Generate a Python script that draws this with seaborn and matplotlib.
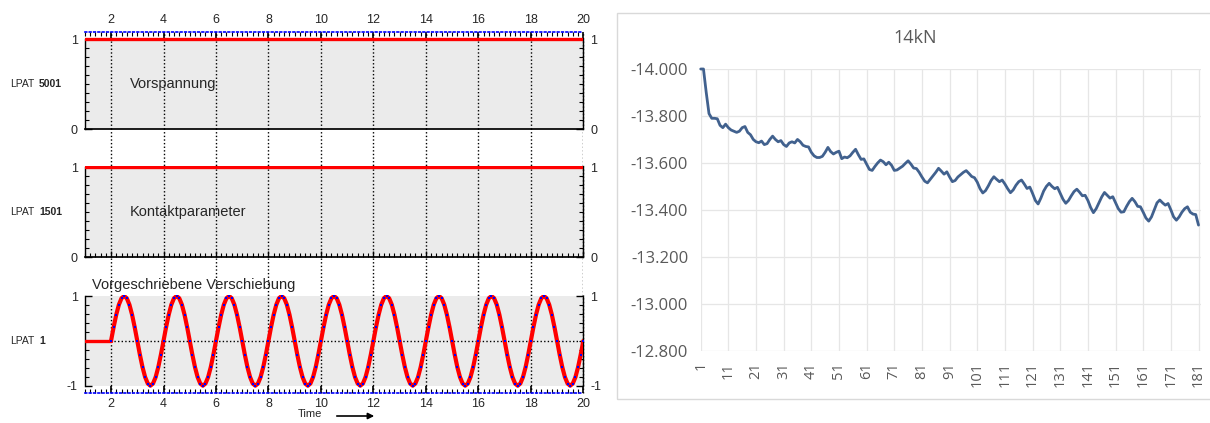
import numpy as np
import pandas as pd
import matplotlib
matplotlib.use("Agg")
import matplotlib.pyplot as plt
import seaborn as sns
from matplotlib.ticker import MultipleLocator, FixedLocator
from matplotlib.patches import Rectangle, FancyArrowPatch

# ---------------- data: load curves (left) ----------------
span_time = [1.0, 20.0]
preload_level = [1.0, 1.0]          # LPAT 5001 - Vorspannung
contact_level = [1.0, 1.0]          # LPAT 1501 - Kontaktparameter
hold_time = [1.0, 2.0]
hold_disp = [0.0, 0.0]
# one period of the prescribed displacement, sampled every 0.1 s
disp_cycle = [0.0, 0.309, 0.588, 0.809, 0.951, 1.0, 0.951, 0.809, 0.588, 0.309,
              0.0, -0.309, -0.588, -0.809, -0.951, -1.0, -0.951, -0.809, -0.588, -0.309]
n_cycles = 9
time_ticks = [2, 4, 6, 8, 10, 12, 14, 16, 18, 20]

# ---------------- data: measured force (right) ----------------
force_title = "14kN"
force_kn = [
    -14.000, -14.000, -13.900, -13.810, -13.790, -13.790, -13.788, -13.760, -13.750, -13.765,
    -13.750, -13.740, -13.735, -13.730, -13.735, -13.750, -13.755, -13.730, -13.720, -13.700,
    -13.690, -13.686, -13.693, -13.678, -13.682, -13.700, -13.714, -13.700, -13.690, -13.695,
    -13.678, -13.670, -13.685, -13.690, -13.685, -13.700, -13.690, -13.675, -13.670, -13.668,
    -13.645, -13.630, -13.623, -13.623, -13.628, -13.645, -13.666, -13.648, -13.638, -13.645,
    -13.650, -13.618, -13.625, -13.622, -13.630, -13.645, -13.658, -13.635, -13.615, -13.617,
    -13.595, -13.572, -13.568, -13.585, -13.600, -13.612, -13.605, -13.592, -13.603, -13.590,
    -13.568, -13.570, -13.578, -13.586, -13.598, -13.609, -13.595, -13.578, -13.576, -13.560,
    -13.540, -13.522, -13.515, -13.530, -13.545, -13.560, -13.577, -13.565, -13.552, -13.562,
    -13.540, -13.520, -13.525, -13.540, -13.550, -13.560, -13.567, -13.555, -13.542, -13.537,
    -13.518, -13.490, -13.472, -13.482, -13.502, -13.525, -13.541, -13.530, -13.520, -13.527,
    -13.510, -13.490, -13.473, -13.485, -13.505, -13.520, -13.527, -13.510, -13.491, -13.497,
    -13.470, -13.440, -13.425, -13.450, -13.480, -13.500, -13.513, -13.500, -13.490, -13.496,
    -13.470, -13.445, -13.428, -13.440, -13.460, -13.478, -13.488, -13.475, -13.460, -13.462,
    -13.440, -13.410, -13.388, -13.405, -13.430, -13.455, -13.474, -13.462, -13.450, -13.456,
    -13.430, -13.405, -13.390, -13.392, -13.415, -13.435, -13.449, -13.435, -13.415, -13.413,
    -13.390, -13.365, -13.352, -13.370, -13.400, -13.430, -13.442, -13.430, -13.420, -13.427,
    -13.400, -13.370, -13.356, -13.370, -13.390, -13.405, -13.413, -13.390, -13.382, -13.380,
    -13.335,
]
force_step = list(range(1, len(force_kn) + 1))
force_yticks = [-14.0, -13.8, -13.6, -13.4, -13.2, -13.0, -12.8]
force_xticks = list(range(1, 182, 10))

disp_values = disp_cycle * n_cycles + [0.0]
disp_time = np.round(np.linspace(2.0, 20.0, len(disp_values)), 2)
disp_df = pd.DataFrame({"Time": disp_time, "u": disp_values})
force_df = pd.DataFrame({"step": force_step, "F": force_kn})

# ---------------- style ----------------
sns.set_theme(style="white")
plt.rcParams["font.family"] = ["Liberation Sans", "DejaVu Sans"]
plt.rcParams["axes.unicode_minus"] = False

W, H = 1210, 423
fig = plt.figure(figsize=(W / 100, H / 100), dpi=100)
fig.patch.set_facecolor("white")


def box(x0, y0, x1, y1):
    return [x0 / W, 1 - y1 / H, (x1 - x0) / W, (y1 - y0) / H]


GRAY = "#ebebeb"
DOT = (0, (1, 1.6))

# guide lines running through the gaps between the load-curve panels
guide = fig.add_axes(box(84.8, 32, 583.3, 392.7))
guide.set_zorder(0)
guide.set_xlim(1, 20)
guide.set_ylim(0, 1)
guide.axis("off")
for t in time_ticks:
    guide.axvline(t, color="black", lw=1.0, ls=DOT)

ax1 = fig.add_axes(box(84.8, 32, 583.3, 129))
ax2 = fig.add_axes(box(84.8, 165.5, 583.3, 257.3))
ax3 = fig.add_axes(box(84.8, 294.7, 583.3, 392.7))

panels = [
    (ax1, (0, 1.078), (0, 1), 0.1, [0, 1]),
    (ax2, (0, 1.02), (0, 1), 0.1, [0, 1]),
    (ax3, (-1.156, 1.03), (-1, 1), 0.2, [-1, 1]),
]
for ax, ylim, band, yminor, yticks in panels:
    ax.set_zorder(1)
    ax.set_facecolor("none")
    ax.set_xlim(1, 20)
    ax.set_ylim(*ylim)
    ax.axhspan(band[0], band[1], color=GRAY, zorder=0, lw=0)
    for t in time_ticks:
        ax.axvline(t, color="black", lw=1.0, ls=DOT, zorder=1, clip_on=False)
    for side in ["left", "right"]:
        ax.spines[side].set_visible(True)
        ax.spines[side].set_color("black")
        ax.spines[side].set_linewidth(1.0)
        ax.spines[side].set_bounds(band[0], band[1])
    ax.yaxis.set_major_locator(FixedLocator(yticks))
    ax.yaxis.set_minor_locator(MultipleLocator(yminor))
    ax.tick_params(axis="y", which="both", left=True, right=True,
                   labelleft=True, labelright=True, direction="in",
                   color="black", labelsize=9, pad=5)
    ax.tick_params(axis="y", which="major", length=5, width=1)
    ax.tick_params(axis="y", which="minor", length=3, width=0.8)
    ax.xaxis.set_major_locator(FixedLocator(time_ticks))
    ax.xaxis.set_minor_locator(MultipleLocator(0.2))
    ax.set_xlabel("")
    ax.set_ylabel("")

# panel 1: Vorspannung
sns.lineplot(x=span_time, y=preload_level, ax=ax1, color="red", lw=2.4,
             estimator=None, zorder=3)
ax1.spines["top"].set_visible(True)
ax1.spines["top"].set_color("blue")
ax1.spines["top"].set_linestyle(DOT)
ax1.spines["top"].set_linewidth(1.2)
ax1.spines["bottom"].set_visible(True)
ax1.spines["bottom"].set_color("black")
ax1.spines["bottom"].set_bounds(1, 20)
ax1.tick_params(axis="x", which="both", top=True, bottom=False,
                labeltop=True, labelbottom=False, direction="in",
                color="black", labelsize=9, pad=4)
ax1.tick_params(axis="x", which="major", length=5, width=1.2)
ax1.tick_params(axis="x", which="minor", length=3, width=0.8)

# panel 2: Kontaktparameter
sns.lineplot(x=span_time, y=contact_level, ax=ax2, color="red", lw=2.4,
             estimator=None, zorder=3)
ax2.spines["top"].set_visible(False)
ax2.spines["bottom"].set_visible(True)
ax2.spines["bottom"].set_color("black")
ax2.tick_params(axis="x", which="both", top=False, bottom=True,
                labeltop=False, labelbottom=False, direction="in",
                color="black")
ax2.tick_params(axis="x", which="major", length=4, width=1)
ax2.tick_params(axis="x", which="minor", length=3, width=0.8)

# panel 3: Vorgeschriebene Verschiebung
ax3.axhline(0, color="black", lw=1.0, ls=DOT, zorder=1)
sns.lineplot(x=hold_time, y=hold_disp, ax=ax3, color="red", lw=2.4,
             estimator=None, zorder=3)
sns.lineplot(data=disp_df, x="Time", y="u", ax=ax3, color="red", lw=3.0,
             estimator=None, sort=False, zorder=3)
sns.scatterplot(data=disp_df, x="Time", y="u", ax=ax3, color="blue",
                marker="s", s=1.6, linewidth=0, zorder=4)
ax3.set_xlabel("")
ax3.set_ylabel("")
ax3.spines["top"].set_visible(False)
ax3.spines["bottom"].set_visible(True)
ax3.spines["bottom"].set_color("blue")
ax3.spines["bottom"].set_linestyle(DOT)
ax3.spines["bottom"].set_linewidth(1.2)
ax3.tick_params(axis="x", which="both", top=False, bottom=True,
                labeltop=False, labelbottom=True, direction="in",
                color="black", labelsize=9, pad=4)
ax3.tick_params(axis="x", which="major", length=5, width=1.2)
ax3.tick_params(axis="x", which="minor", length=3, width=0.8)

# panel annotations
for ypix, num in [(84, "5001"), (212, "1501"), (341, "1")]:
    fig.text(10 / W, 1 - ypix / H, "LPAT", fontsize=7.5, ha="left", va="center")
    fig.text(39 / W, 1 - ypix / H, num, fontsize=7.5, fontweight="bold",
             ha="left", va="center")
fig.text(130 / W, 1 - 84 / H, "Vorspannung", fontsize=10.5, ha="left", va="center")
fig.text(130 / W, 1 - 212 / H, "Kontaktparameter", fontsize=10.5, ha="left", va="center")
fig.text(92 / W, 1 - 285 / H, "Vorgeschriebene Verschiebung", fontsize=10.5,
         ha="left", va="center")
fig.text(298 / W, 1 - 414 / H, "Time", fontsize=8, ha="left", va="center")
fig.add_artist(FancyArrowPatch((334 / W, 1 - 416 / H), (377 / W, 1 - 416 / H),
                               transform=fig.transFigure, arrowstyle="-|>",
                               mutation_scale=9, lw=1.2, color="black"))

# ---------------- measured force chart ----------------
fig.add_artist(Rectangle((617 / W, 1 - 399 / H), 620 / W, (399 - 13.3) / H,
                         transform=fig.transFigure, fill=False,
                         ec="#d9d9d9", lw=1.0))
axR = fig.add_axes(box(700.7, 69, 1201, 350.7))
sns.lineplot(data=force_df, x="step", y="F", ax=axR, color="#41618e", lw=2.0,
             estimator=None)
for ln in axR.lines:
    ln.set_clip_on(False)
axR.set_xlim(1, 181.9)
axR.set_ylim(-12.8, -14.0)
axR.set_yticks(force_yticks)
axR.set_yticklabels([f"{v:.3f}" for v in force_yticks])
axR.set_xticks(force_xticks)
axR.set_xticklabels([str(v) for v in force_xticks], rotation=90)
axR.grid(True, color="#e6e6e6", lw=0.9)
axR.set_axisbelow(True)
for s in axR.spines.values():
    s.set_visible(False)
axR.set_xlabel("")
axR.set_ylabel("")
axR.tick_params(axis="y", length=0, pad=9, labelsize=12, labelcolor="#595959")
axR.tick_params(axis="x", length=0, pad=8, labelsize=10.5, labelcolor="#595959")
for lab in axR.get_xticklabels() + axR.get_yticklabels():
    lab.set_family(["Open Sans", "DejaVu Sans"])
fig.text(915 / W, 1 - 38 / H, force_title, fontsize=13, color="#595959",
         ha="center", va="center", family=["Open Sans", "DejaVu Sans"])

fig.savefig("out.png", dpi=100, facecolor="white")
